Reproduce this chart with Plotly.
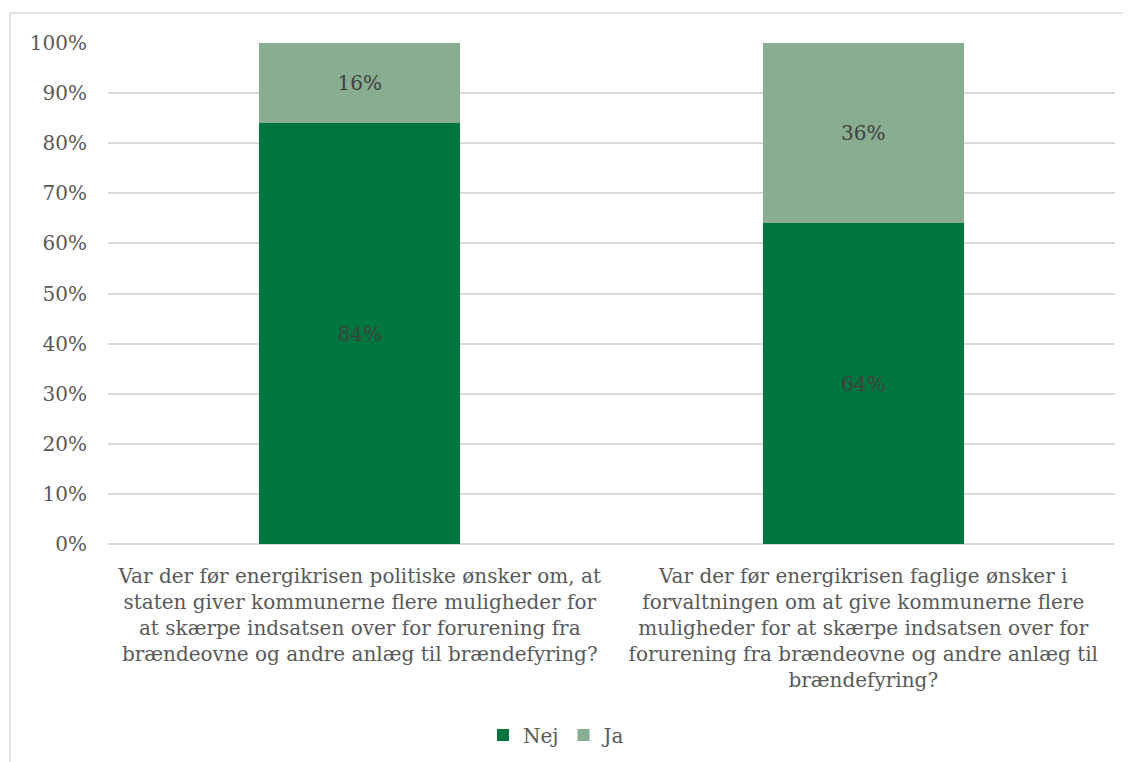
import plotly.graph_objects as go

categories = [
    "Var der før energikrisen politiske ønsker om, at<br>staten giver kommunerne flere muligheder for<br>at skærpe indsatsen over for forurening fra<br>brændeovne og andre anlæg til brændefyring?",
    "Var der før energikrisen faglige ønsker i<br>forvaltningen om at give kommunerne flere<br>muligheder for at skærpe indsatsen over for<br>forurening fra brændeovne og andre anlæg til<br>brændefyring?",
]
nej = [0.84, 0.64]
ja = [0.16, 0.36]
y_ticks = [0, 0.1, 0.2, 0.3, 0.4, 0.5, 0.6, 0.7, 0.8, 0.9, 1.0]

FONT = "DejaVu Serif"
W, H = 1131, 762
OFF = 8  # page body margin
L, R, T, B = 108 - OFF, 16 + OFF, 43 - OFF, 218 + OFF

fig = go.Figure()
fig.add_trace(go.Bar(
    name="Nej", x=categories, y=nej, marker_color="#00763F",
    marker_line_width=0,
    text=[f"{v*100:.0f}%" for v in nej], textposition="inside",
    insidetextanchor="middle",
    textfont=dict(family=FONT, size=20, color="#404040"),
))
fig.add_trace(go.Bar(
    name="Ja", x=categories, y=ja, marker_color="#88AD90",
    marker_line_width=0,
    text=[f"{v*100:.0f}%" for v in ja], textposition="inside",
    insidetextanchor="middle",
    textfont=dict(family=FONT, size=20, color="#404040"),
))

pw = W - L - R
ph = H - T - B
x0 = (10 - OFF - L) / pw
y1 = (H - (13 - OFF) - B) / ph

fig.update_layout(
    width=W, height=H,
    barmode="stack", bargap=0.6,
    margin=dict(l=L, r=R, t=T, b=B, autoexpand=False),
    paper_bgcolor="white", plot_bgcolor="white",
    font=dict(family=FONT, size=20, color="#595959"),
    showlegend=True,
    legend=dict(orientation="h", x=(557 - OFF - L) / pw, xanchor="center",
                y=(H - B - (735 - OFF)) / ph, yanchor="middle",
                font=dict(family=FONT, size=20, color="#595959"),
                traceorder="normal", itemwidth=30),
    xaxis=dict(showgrid=False, showline=False, ticks="", tickangle=0,
               ticklabelstandoff=18,
               tickfont=dict(family=FONT, size=20, color="#595959")),
    yaxis=dict(range=[0, 1], tickvals=y_ticks, tickformat=".0%",
               showgrid=True, gridcolor="#D9D9D9", gridwidth=1.5,
               zeroline=True, zerolinecolor="#D9D9D9", zerolinewidth=1.5,
               showline=False, ticks="", ticklabelstandoff=20,
               tickfont=dict(family=FONT, size=20, color="#595959")),
    shapes=[
        dict(type="line", xref="paper", yref="paper", x0=x0, x1=2, y0=y1, y1=y1,
             line=dict(color="#D9D9D9", width=1.5)),
        dict(type="line", xref="paper", yref="paper", x0=x0, x1=x0, y0=-2, y1=y1,
             line=dict(color="#D9D9D9", width=1.5)),
    ],
)

fig.write_html("out.html")
